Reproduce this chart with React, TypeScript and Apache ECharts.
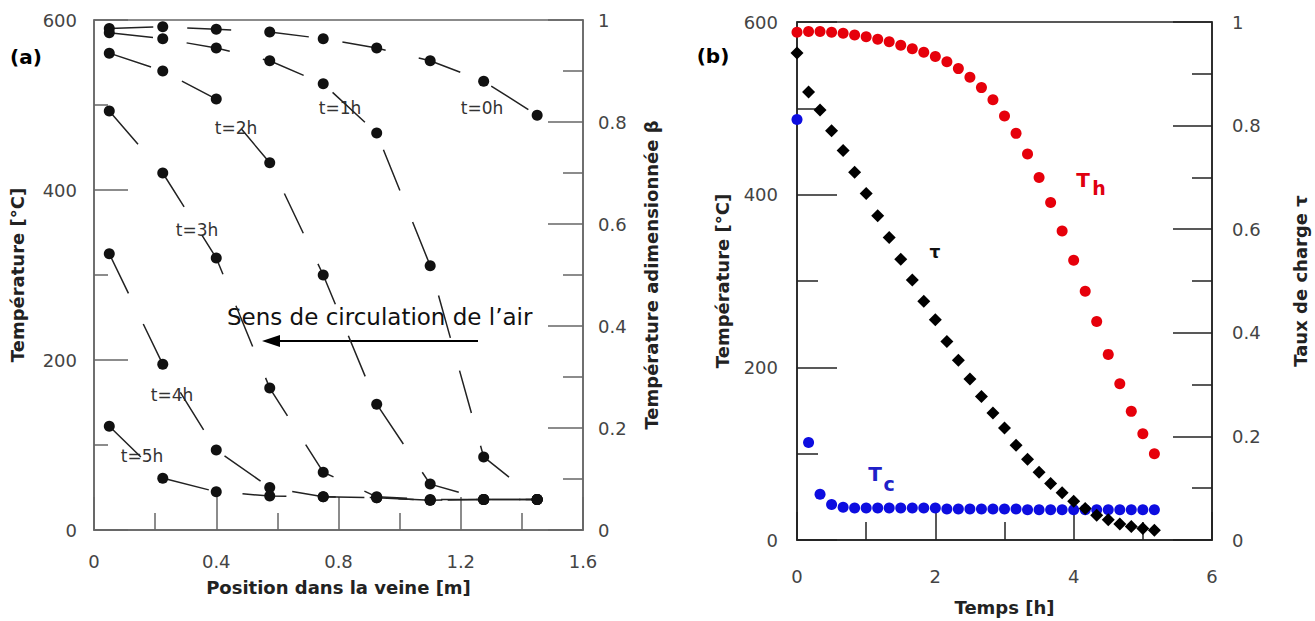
import React, { useEffect, useRef } from "react";
import * as echarts from "echarts";

// ---- Panel (a): temperature profiles along the duct ----
const positions = [0.05, 0.225, 0.4, 0.575, 0.75, 0.925, 1.1, 1.275, 1.45];
const profile0h = [590, 592, 589, 586, 578, 567, 552, 528, 488];
const profile1h = [585, 578, 567, 552, 525, 467, 311, 86, 36];
const profile2h = [561, 540, 507, 432, 300, 148, 54, 36, 36];
const profile3h = [493, 420, 320, 167, 68, 39, 36, 36, 36];
const profile4h = [325, 195, 94, 50, 39, 38, 35, 36, 36];
const profile5h = [122, 61, 45, 40, 39, 38, 35, 36, 36];
const profileNames = ["t=0h", "t=1h", "t=2h", "t=3h", "t=4h", "t=5h"];

// ---- Panel (b): temperatures and charge rate vs time ----
const times = [
  0, 0.167, 0.333, 0.5, 0.667, 0.833, 1, 1.167, 1.333, 1.5, 1.667, 1.833, 2, 2.167, 2.333, 2.5,
  2.667, 2.833, 3, 3.167, 3.333, 3.5, 3.667, 3.833, 4, 4.167, 4.333, 4.5, 4.667, 4.833, 5, 5.167,
];
const hotTemp = [
  588, 589, 589, 588, 587, 585, 583, 580, 577, 573, 569, 565, 560, 554, 546, 536,
  524, 510, 491, 471, 447, 420, 391, 358, 324, 288, 253, 215, 181, 149, 123, 100,
];
const coldTemp = [
  487, 113, 53, 41, 38, 37, 37, 37, 37, 37, 37, 37, 37, 36, 36, 36,
  36, 36, 36, 36, 35, 35, 35, 35, 35, 35, 35, 35, 35, 35, 35, 35,
];
const chargeRate = [
  0.94, 0.865, 0.83, 0.79, 0.752, 0.71, 0.669, 0.626, 0.584, 0.542, 0.502, 0.461, 0.425, 0.383, 0.347, 0.311,
  0.277, 0.245, 0.216, 0.183, 0.156, 0.131, 0.109, 0.091, 0.075, 0.061, 0.048, 0.039, 0.031, 0.026, 0.022, 0.019,
];

const FONT = "DejaVu Sans";

function axisStyle(color: string, major: number, minor: number, labelMargin: number) {
  return {
    axisLine: { show: true, onZero: false, lineStyle: { color, width: 1.5 } },
    axisTick: { show: true, inside: true, length: major, lineStyle: { color, width: 1.5 } },
    minorTick: { show: true, splitNumber: 2, length: minor, lineStyle: { color, width: 1.5 } },
    splitLine: { show: false },
    axisLabel: { fontFamily: FONT, fontSize: 18, color: "#444", margin: labelMargin },
    nameLocation: "middle" as const,
    nameTextStyle: { fontFamily: FONT, fontSize: 18, fontWeight: "bold" as const, color: "#222" },
  };
}

function txt(text: string, x: number, y: number, size: number, color: string, bold = false, align = "center") {
  return {
    type: "text",
    x,
    y,
    style: {
      text,
      fontFamily: FONT,
      fontSize: size,
      fontWeight: bold ? "bold" : "normal",
      fill: color,
      align,
      verticalAlign: "middle",
      textAlign: align,
      textVerticalAlign: "middle",
    },
  };
}

export default function App() {
  const ref = useRef<HTMLDivElement>(null);
  useEffect(() => {
    const chart = echarts.init(ref.current!, null, { renderer: "svg" });
    const profiles = [profile0h, profile1h, profile2h, profile3h, profile4h, profile5h];
    const leftGray = "#666";
    const rightBlack = "#222";
    const option: any = {
      animation: false,
      backgroundColor: "#fff",
      grid: [
        { left: 94, top: 20, width: 489, height: 510, show: true, borderColor: leftGray, borderWidth: 1.5 },
        { left: 797, top: 22, width: 415, height: 518, show: true, borderColor: rightBlack, borderWidth: 1.5 },
      ],
      xAxis: [
        {
          gridIndex: 0, type: "value", min: 0, max: 1.6, interval: 0.4,
          ...axisStyle(leftGray, 33, 17, 22),
          name: "Position dans la veine [m]", nameGap: 48,
        },
        {
          gridIndex: 1, type: "value", min: 0, max: 6, interval: 2,
          ...axisStyle(rightBlack, 28, 18, 27),
          name: "Temps [h]", nameGap: 58,
        },
      ],
      yAxis: [
        {
          gridIndex: 0, type: "value", min: 0, max: 600, interval: 200, position: "left",
          ...axisStyle(leftGray, 34, 14, 17),
          name: "Température [°C]", nameGap: 68,
        },
        {
          gridIndex: 0, type: "value", min: 0, max: 1, interval: 0.2, position: "right",
          ...axisStyle(leftGray, 35, 20, 15),
          name: "Température adimensionnée β", nameGap: 59,
        },
        {
          gridIndex: 1, type: "value", min: 0, max: 600, interval: 200, position: "left",
          ...axisStyle(rightBlack, 40, 21, 19),
          name: "Température [°C]", nameGap: 66,
        },
        {
          gridIndex: 1, type: "value", min: 0, max: 1, interval: 0.2, position: "right",
          ...axisStyle(rightBlack, 39, 20, 20),
          name: "Taux de charge τ", nameGap: 79,
        },
      ],
      series: [
        ...profiles.map((p, k) => ({
          name: profileNames[k],
          type: "line",
          xAxisIndex: 0,
          yAxisIndex: 0,
          data: positions.map((x, i) => [x, p[i]]),
          symbol: "circle",
          symbolSize: 11,
          showSymbol: true,
          itemStyle: { color: "#111", opacity: 1 },
          lineStyle: { color: "#222", width: 1.5, type: [44, 34] },
        })),
        {
          name: "Th", type: "scatter", xAxisIndex: 1, yAxisIndex: 2,
          data: times.map((t, i) => [t, hotTemp[i]]),
          symbol: "circle", symbolSize: 11, itemStyle: { color: "#e6000b", opacity: 1 },
        },
        {
          name: "Tc", type: "scatter", xAxisIndex: 1, yAxisIndex: 2,
          data: times.map((t, i) => [t, coldTemp[i]]),
          symbol: "circle", symbolSize: 11, itemStyle: { color: "#0d0de0", opacity: 1 },
        },
        {
          name: "tau", type: "scatter", xAxisIndex: 1, yAxisIndex: 3,
          data: times.map((t, i) => [t, chargeRate[i]]),
          symbol: "diamond", symbolSize: 13, itemStyle: { color: "#000", opacity: 1 },
        },
      ],
      graphic: [
        txt("(a)", 26, 57, 20, "#000", true),
        txt("(b)", 713, 56, 20, "#000", true),
        txt(profileNames[0], 482, 108, 17, "#333"),
        txt(profileNames[1], 340, 108, 17, "#333"),
        txt(profileNames[2], 236, 128, 17, "#333"),
        txt(profileNames[3], 197, 230, 17, "#333"),
        txt(profileNames[4], 172, 395, 17, "#333"),
        txt(profileNames[5], 142, 456, 17, "#333"),
        txt("Sens de circulation de l’air", 227, 317, 23, "#111", false, "left"),
        {
          type: "line",
          shape: { x1: 478, y1: 341, x2: 276, y2: 341 },
          style: { stroke: "#000", lineWidth: 2 },
        },
        {
          type: "polygon",
          shape: { points: [[262, 341], [280, 335], [280, 347]] },
          style: { fill: "#000" },
        },
        txt("T", 1083, 180, 20, "#e00010", true),
        txt("h", 1099, 188, 19, "#e00010", true),
        txt("T", 875, 474, 20, "#2020c8", true),
        txt("c", 889, 484, 19, "#2020c8", true),
        txt("τ", 935, 252, 17, "#111", true),
      ],
    };
    chart.setOption(option);
    return () => chart.dispose();
  }, []);
  return (
    <div
      ref={ref}
      style={{ position: "fixed", left: 0, top: 0, width: 1315, height: 621, background: "#fff" }}
    />
  );
}
